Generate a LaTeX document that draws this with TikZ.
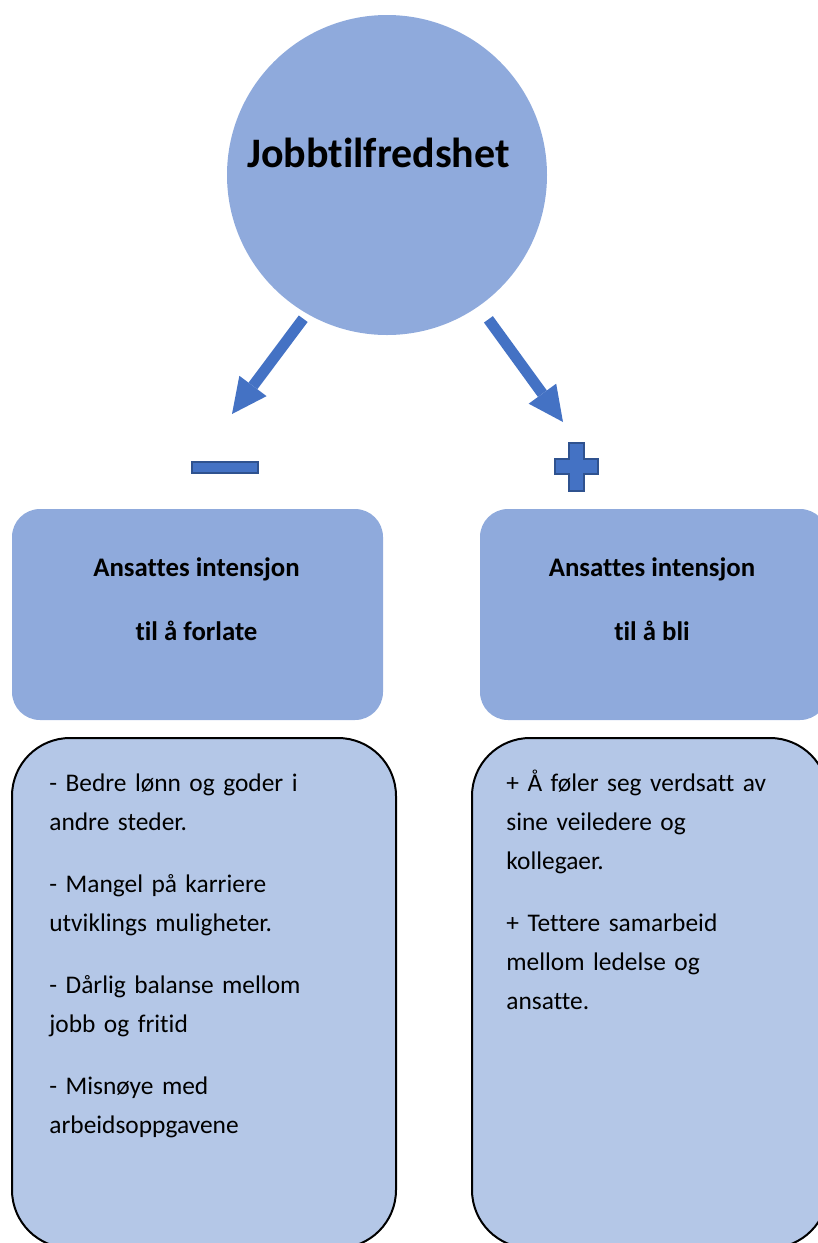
\documentclass[tikz,border=0pt]{standalone}
\usepackage{fontspec}
\setmainfont{Carlito}[Ligatures={NoCommon,NoContextual}]
\usetikzlibrary{arrows.meta}
\definecolor{sirkelblaa}{HTML}{8FAADC}
\definecolor{boksblaa}{HTML}{B4C7E7}
\definecolor{pilblaa}{HTML}{4472C4}
\definecolor{kantblaa}{HTML}{2F528F}
\begin{document}
\begin{tikzpicture}[x=0.5pt,y=-0.5pt,
	overskrift/.style={font=\bfseries\fontsize{13.4}{15}\selectfont, anchor=base},
	punkter/.style={font=\fontsize{12.7}{19.5}\selectfont, anchor=base west, text width=180pt, align=left, inner sep=0pt},
	toppboks/.style={rectangle, rounded corners=14pt, fill=sirkelblaa, inner sep=0pt, minimum height=105.5pt},
	listeboks/.style={rectangle, rounded corners=29pt, fill=boksblaa, draw=black, line width=1pt, inner sep=0pt, minimum height=255pt},
	pil/.style={pilblaa, line width=5.5pt, -{Triangle[length=17.5pt,width=17pt,line width=0pt]}},
	tegn/.style={fill=pilblaa, draw=kantblaa, line width=1pt}]
	\useasboundingbox (0,0) rectangle (818,1243);
	% sirkelen
	\node[circle, fill=sirkelblaa, minimum size=160pt, inner sep=0pt] (sirkel) at (387,175) {};
	\node[font=\bfseries\fontsize{21}{25}\selectfont, anchor=base] (tittel) at (378.5,167) {Jobbtilfredshet};
	% pilene
	\coordinate (venstrespiss) at (232,414);
	\coordinate (hoyrespiss) at (563,422);
	\draw[pil, shorten <=3pt] (sirkel.240) -- (venstrespiss);
	\draw[pil, shorten <=8pt] (sirkel.305) -- (hoyrespiss);
	% minus og pluss
	\filldraw[tegn] (192,462) rectangle (258,473);
	\filldraw[tegn] (569,443) -- (584,443) -- (584,459) -- (598,459) -- (598,474) -- (584,474)
		-- (584,491) -- (569,491) -- (569,474) -- (555,474) -- (555,459) -- (569,459) -- cycle;
	% boksene
	\node[toppboks, minimum width=185.5pt] (forlate) at (197.5,614.5) {};
	\node[toppboks, minimum width=174pt] (bli) at (654,614.5) {};
	\node[overskrift] (forlate1) at (196.5,576) {Ansattes intensjon};
	\node[overskrift] (forlate2) at (196.5,640) {til å forlate};
	\node[overskrift] (bli1) at (652,576) {Ansattes intensjon};
	\node[overskrift] (bli2) at (652,640) {til å bli};
	\node[listeboks, minimum width=192pt] (ulemper) at (204,993) {};
	\node[listeboks, minimum width=178pt] (fordeler) at (650,993) {};
	\node[punkter] (ulempetekst) at (49,791) {- Bedre lønn og goder i\\ andre steder.\\[11.5pt]
		- Mangel på karriere\\ utviklings muligheter.\\[11.5pt]
		- Dårlig balanse mellom\\ jobb og fritid\\[11.5pt]
		- Misnøye med\\ arbeidsoppgavene};
	\node[punkter] (fordeltekst) at (506,791) {+ Å føler seg verdsatt av\\ sine veiledere og\\ kollegaer.\\[11.5pt]
		+ Tettere samarbeid\\ mellom ledelse og\\ ansatte.};
\end{tikzpicture}
\end{document}
